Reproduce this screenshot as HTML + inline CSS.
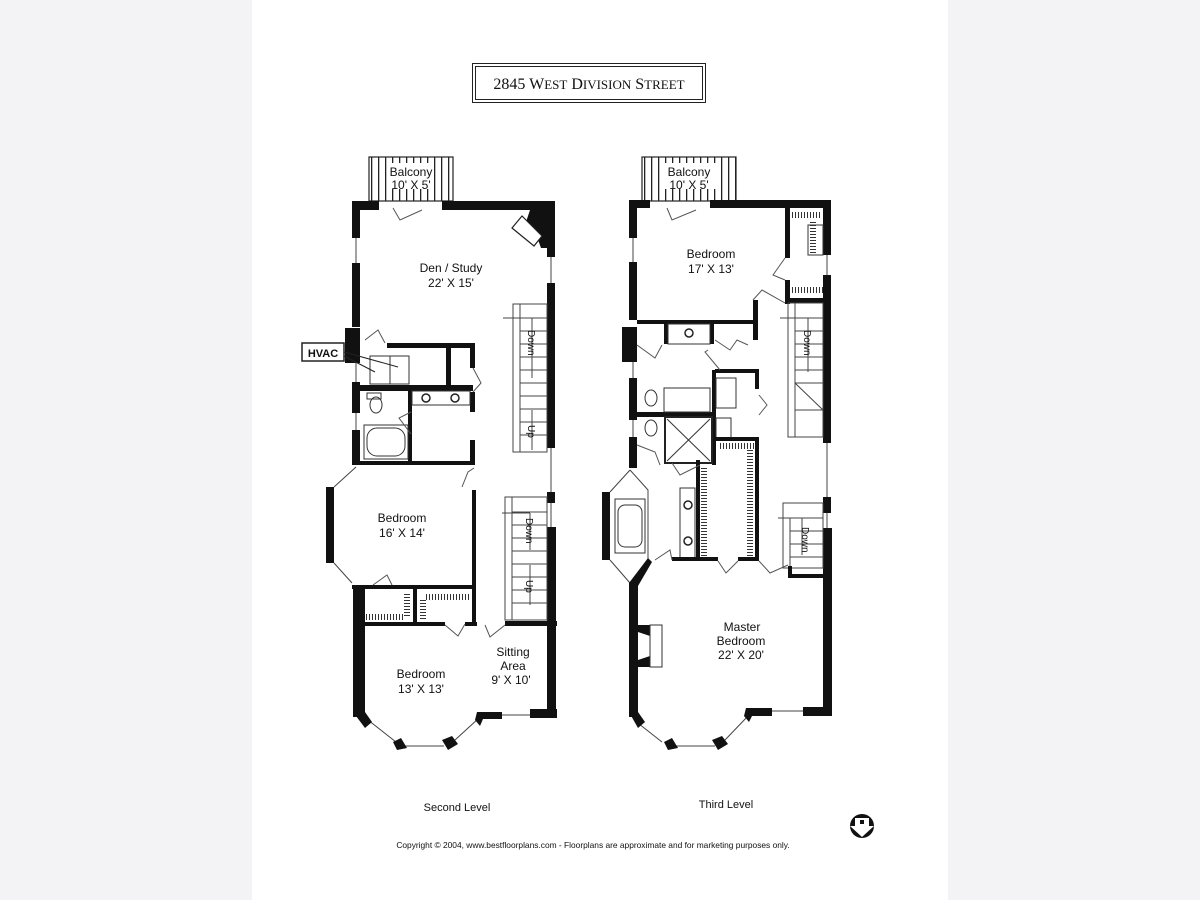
<!DOCTYPE html>
<html><head><meta charset="utf-8"><style>
html,body{margin:0;padding:0;background:#f3f3f6;}
#pg{position:absolute;left:252px;top:0;width:696px;height:900px;background:#fff;}
svg{position:absolute;left:0;top:0;}
text{font-family:"Liberation Sans",Arial,sans-serif;fill:#111;}
</style></head><body>
<div id="pg"></div>
<svg width="1200" height="900" viewBox="0 0 1200 900">
<defs>
<pattern id="bal" width="7" height="10" patternUnits="userSpaceOnUse"><rect x="0" y="0" width="1.3" height="10" fill="#222"/></pattern>
<pattern id="hang" width="3" height="8" patternUnits="userSpaceOnUse"><rect x="0" y="0" width="1" height="8" fill="#333"/></pattern>
<pattern id="hangh" width="8" height="3" patternUnits="userSpaceOnUse"><rect x="0" y="0" width="8" height="1" fill="#333"/></pattern>
</defs>
<rect x="472.5" y="63.5" width="233" height="39" fill="none" stroke="#222" stroke-width="1"/>
<rect x="475.5" y="66.5" width="227" height="33" fill="none" stroke="#222" stroke-width="1"/>
<text x="589" y="89" font-size="16" text-anchor="middle" style="font-family:'Liberation Serif',serif">2845 W<tspan font-size="13">EST</tspan> D<tspan font-size="13">IVISION</tspan> S<tspan font-size="13">TREET</tspan></text>

<g fill="#111">
<rect x="369" y="157" width="84" height="44" fill="url(#bal)"/>
<rect x="369" y="157" width="84" height="44" fill="none" stroke="#222" stroke-width="1.2"/>
<rect x="388" y="163" width="46" height="26" fill="#fff"/>
<rect x="352" y="201" width="27" height="9"/>
<rect x="442" y="201" width="113" height="9"/>
<polygon points="530,210 547,210 547,248 541,248 536,234 526,222"/>
<polygon points="512,228 522,216 542,236 534,246" fill="#fff" stroke="#222" stroke-width="1.2"/>
<rect x="352" y="201" width="8" height="37"/>
<rect x="352" y="263" width="8" height="64"/>
<rect x="345" y="328" width="15" height="35"/>
<rect x="352" y="382" width="8" height="31"/>
<rect x="352" y="430" width="8" height="35"/>
<line x1="356" y1="238" x2="356" y2="263" stroke="#444"/>
<line x1="356" y1="363" x2="356" y2="382" stroke="#444"/>
<line x1="356" y1="413" x2="356" y2="430" stroke="#444"/>
<rect x="547" y="201" width="8" height="56"/>
<rect x="547" y="283" width="8" height="165"/>
<line x1="551" y1="257" x2="551" y2="283" stroke="#444"/>
<line x1="551" y1="448" x2="551" y2="497" stroke="#444"/>
<rect x="547" y="492" width="8" height="11"/>
<rect x="547" y="527" width="9" height="190"/>
<line x1="551" y1="503" x2="551" y2="527" stroke="#444"/>
<rect x="387" y="343" width="86" height="5"/>
<rect x="446" y="343" width="5" height="42"/>
<rect x="360" y="385" width="113" height="6"/>
<rect x="408" y="385" width="4" height="78"/>
<rect x="470" y="343" width="5" height="25"/>
<rect x="470" y="392" width="5" height="20"/>
<rect x="470" y="440" width="5" height="25"/>
<rect x="360" y="461" width="113" height="4"/>
<rect x="370" y="356" width="39" height="28" fill="none" stroke="#333"/>
<line x1="390" y1="356" x2="390" y2="384" stroke="#333"/>
<rect x="364" y="425" width="44" height="34" fill="none" stroke="#333"/>
<rect x="367" y="428" width="38" height="28" rx="10" fill="none" stroke="#333"/>
<rect x="412" y="391" width="58" height="14" fill="none" stroke="#333"/>
<circle cx="426" cy="398" r="4" fill="none" stroke="#222" stroke-width="1.5"/>
<circle cx="455" cy="398" r="4" fill="none" stroke="#222" stroke-width="1.5"/>
<ellipse cx="376" cy="405" rx="6" ry="8" fill="none" stroke="#333"/>
<rect x="367" y="393" width="14" height="6" fill="none" stroke="#333"/>
<rect x="302" y="343" width="42" height="18" fill="#fff" stroke="#222" stroke-width="1.5"/>
<text x="323" y="357" font-size="11" font-weight="bold" text-anchor="middle">HVAC</text>
<line x1="344" y1="356" x2="375" y2="372" stroke="#222"/>
<line x1="344" y1="352" x2="398" y2="367" stroke="#222"/>
<g stroke="#444" fill="none" stroke-width="1">
<rect x="513" y="304" width="34" height="148"/>
<line x1="520" y1="304" x2="520" y2="452"/>
<line x1="520" y1="318" x2="547" y2="318"/><line x1="520" y1="331" x2="547" y2="331"/><line x1="520" y1="344" x2="547" y2="344"/><line x1="520" y1="357" x2="547" y2="357"/><line x1="520" y1="370" x2="547" y2="370"/><line x1="520" y1="383" x2="547" y2="383"/><line x1="520" y1="396" x2="547" y2="396"/><line x1="520" y1="409" x2="547" y2="409"/><line x1="520" y1="422" x2="547" y2="422"/><line x1="520" y1="435" x2="547" y2="435"/>
<line x1="503" y1="318" x2="532" y2="318"/><line x1="532" y1="318" x2="532" y2="378"/><line x1="532" y1="410" x2="532" y2="450"/>
<rect x="505" y="497" width="42" height="123"/>
<line x1="512" y1="497" x2="512" y2="620"/>
<line x1="512" y1="512" x2="547" y2="512"/><line x1="512" y1="525" x2="547" y2="525"/><line x1="512" y1="538" x2="547" y2="538"/><line x1="512" y1="551" x2="547" y2="551"/><line x1="512" y1="564" x2="547" y2="564"/><line x1="512" y1="577" x2="547" y2="577"/><line x1="512" y1="590" x2="547" y2="590"/><line x1="512" y1="603" x2="547" y2="603"/>
<line x1="502" y1="513" x2="530" y2="513"/><line x1="530" y1="513" x2="530" y2="550"/><line x1="530" y1="565" x2="530" y2="605"/>
</g>
<text transform="translate(528,330) rotate(90)" font-size="10">Down</text>
<text transform="translate(528,425) rotate(90)" font-size="10">Up</text>
<text transform="translate(526,518) rotate(90)" font-size="10">Down</text>
<text transform="translate(526,580) rotate(90)" font-size="10">Up</text>
<rect x="326" y="487" width="8" height="76"/>
<line x1="334" y1="487" x2="356" y2="467" stroke="#444"/>
<line x1="334" y1="563" x2="352" y2="583" stroke="#444"/>
<rect x="472" y="490" width="4" height="133"/>
<rect x="352" y="585" width="121" height="4"/>
<rect x="353" y="585" width="12" height="132"/>
<rect x="413" y="585" width="4" height="40"/>
<rect x="360" y="622" width="85" height="4"/>
<rect x="465" y="622" width="12" height="4"/>
<rect x="505" y="621" width="52" height="5"/>
<rect x="364" y="614" width="40" height="6" fill="url(#hang)"/>
<rect x="404" y="592" width="6" height="24" fill="url(#hangh)"/>
<rect x="426" y="594" width="45" height="6" fill="url(#hang)"/>
<rect x="420" y="598" width="6" height="22" fill="url(#hangh)"/>
<g stroke="#444" stroke-width="1" fill="none">
<line x1="368" y1="720" x2="396" y2="742"/>
<line x1="405" y1="746" x2="444" y2="746"/>
<line x1="455" y1="740" x2="479" y2="718"/>
<line x1="502" y1="715" x2="530" y2="715"/>
<line x1="634" y1="720" x2="662" y2="742"/>
<line x1="672" y1="746" x2="715" y2="746"/>
<line x1="725" y1="740" x2="748" y2="716"/>
<line x1="772" y1="711" x2="803" y2="711"/>
</g>
<polygon points="353,712 365,712 372,722 365,728"/>
<polygon points="393,742 401,738 407,748 397,750"/>
<polygon points="442,740 452,736 458,744 448,750"/>
<polygon points="477,712 502,712 502,719 483,719 480,726 475,720"/>
<rect x="530" y="709" width="27" height="9"/>
<g stroke="#555" fill="none" stroke-width="1">
<polyline points="393,208 400,220 422,210"/>
<polyline points="365,340 378,330 385,343"/>
<polyline points="473,368 481,383 473,392"/>
<polyline points="411,434 399,418 411,412"/>
<polyline points="462,487 468,472 474,468"/>
<polyline points="373,585 387,575 392,585"/>
<polyline points="445,625 458,636 465,624"/>
<polyline points="485,625 490,637 505,625"/>
</g>
</g>

<text x="451" y="272" font-size="12" text-anchor="middle">Den / Study</text>
<text x="451" y="287" font-size="12" text-anchor="middle">22' X 15'</text>
<text x="411" y="176" font-size="12" text-anchor="middle">Balcony</text>
<text x="411" y="189" font-size="12" text-anchor="middle">10' X 5'</text>
<text x="402" y="522" font-size="12" text-anchor="middle">Bedroom</text>
<text x="402" y="537" font-size="12" text-anchor="middle">16' X 14'</text>
<text x="421" y="678" font-size="12" text-anchor="middle">Bedroom</text>
<text x="421" y="693" font-size="12" text-anchor="middle">13' X 13'</text>
<text x="513" y="656" font-size="12" text-anchor="middle">Sitting</text>
<text x="513" y="670" font-size="12" text-anchor="middle">Area</text>
<text x="511" y="684" font-size="12" text-anchor="middle">9' X 10'</text>

<g fill="#111">
<rect x="642" y="157" width="94" height="44" fill="url(#bal)"/>
<rect x="642" y="157" width="94" height="44" fill="none" stroke="#222" stroke-width="1.2"/>
<rect x="662" y="163" width="54" height="26" fill="#fff"/>
<rect x="629" y="200" width="21" height="8"/>
<rect x="710" y="200" width="121" height="8"/>
<rect x="629" y="200" width="8" height="38"/>
<rect x="629" y="262" width="8" height="58"/>
<rect x="622" y="327" width="15" height="35"/>
<rect x="629" y="378" width="8" height="42"/>
<rect x="629" y="437" width="8" height="31"/>
<line x1="633" y1="238" x2="633" y2="262" stroke="#444"/>
<line x1="633" y1="362" x2="633" y2="378" stroke="#444"/>
<line x1="633" y1="420" x2="633" y2="437" stroke="#444"/>
<rect x="823" y="200" width="8" height="55"/>
<rect x="823" y="275" width="8" height="168"/>
<line x1="827" y1="255" x2="827" y2="275" stroke="#444"/>
<line x1="827" y1="443" x2="827" y2="497" stroke="#444"/>
<rect x="823" y="497" width="8" height="16"/>
<line x1="827" y1="513" x2="827" y2="528" stroke="#444"/>
<rect x="823" y="528" width="9" height="188"/>
<rect x="785" y="208" width="5" height="50"/>
<rect x="785" y="280" width="5" height="24"/>
<rect x="808" y="225" width="15" height="30" fill="none" stroke="#333"/>
<rect x="790" y="212" width="30" height="6" fill="url(#hang)"/>
<rect x="810" y="222" width="6" height="32" fill="url(#hangh)"/>
<rect x="790" y="287" width="33" height="6" fill="url(#hang)"/>
<rect x="785" y="298" width="38" height="5"/>
<rect x="637" y="320" width="121" height="4"/>
<rect x="753" y="300" width="5" height="40"/>
<rect x="664" y="320" width="4" height="24"/>
<rect x="710" y="320" width="4" height="24"/>
<rect x="668" y="324" width="42" height="20" fill="none" stroke="#333"/>
<circle cx="689" cy="333" r="4" fill="none" stroke="#222" stroke-width="1.5"/>
<rect x="715" y="369" width="43" height="4"/>
<rect x="755" y="369" width="4" height="20"/>
<rect x="712" y="370" width="4" height="95"/>
<rect x="637" y="412" width="78" height="5"/>
<rect x="665" y="417" width="47" height="46" fill="none" stroke="#222" stroke-width="2"/>
<line x1="667" y1="419" x2="710" y2="461" stroke="#333"/><line x1="710" y1="419" x2="667" y2="461" stroke="#333"/>
<rect x="664" y="388" width="46" height="24" fill="none" stroke="#333"/>
<rect x="716" y="378" width="20" height="30" fill="none" stroke="#333"/>
<rect x="716" y="418" width="15" height="20" fill="none" stroke="#333"/>
<ellipse cx="651" cy="398" rx="6" ry="8" fill="none" stroke="#333"/>
<ellipse cx="651" cy="428" rx="6" ry="8" fill="none" stroke="#333"/>
<rect x="715" y="437" width="43" height="4"/>
<rect x="755" y="437" width="4" height="123"/>
<rect x="696" y="460" width="4" height="100"/>
<rect x="720" y="443" width="35" height="6" fill="url(#hang)"/>
<rect x="747" y="448" width="6" height="110" fill="url(#hangh)"/>
<rect x="701" y="466" width="6" height="90" fill="url(#hangh)"/>
<rect x="680" y="488" width="15" height="70" fill="none" stroke="#333"/>
<circle cx="688" cy="505" r="4" fill="none" stroke="#222" stroke-width="1.5"/>
<circle cx="688" cy="541" r="4" fill="none" stroke="#222" stroke-width="1.5"/>
<rect x="672" y="557" width="46" height="4"/>
<rect x="738" y="557" width="21" height="4"/>
<rect x="602" y="492" width="8" height="68"/>
<line x1="610" y1="492" x2="630" y2="470" stroke="#444"/>
<line x1="610" y1="560" x2="630" y2="583" stroke="#444"/>
<polyline points="630,470 648,490 648,560 630,583" fill="none" stroke="#444"/>
<rect x="615" y="499" width="30" height="54" fill="none" stroke="#333"/>
<rect x="618" y="505" width="24" height="42" rx="7" fill="none" stroke="#333"/>
<polygon points="629,583 648,558 652,562 638,586 638,590 629,590"/>
<rect x="629" y="585" width="9" height="132"/>
<polygon points="638,625 662,625 662,667 638,667 638,660 650,656 650,636 638,632"/>
<rect x="650" y="625" width="12" height="42" fill="#fff" stroke="#333"/>
<polygon points="629,712 638,712 645,722 638,728"/>
<polygon points="664,742 672,738 678,748 668,750"/>
<polygon points="712,740 722,736 728,744 718,750"/>
<polygon points="746,708 772,708 772,716 752,716 749,722 744,716"/>
<rect x="803" y="707" width="29" height="9"/>
<g stroke="#444" fill="none" stroke-width="1">
<rect x="788" y="303" width="35" height="134"/>
<line x1="795" y1="303" x2="795" y2="437"/>
<line x1="795" y1="318" x2="823" y2="318"/><line x1="795" y1="331" x2="823" y2="331"/><line x1="795" y1="344" x2="823" y2="344"/><line x1="795" y1="357" x2="823" y2="357"/><line x1="795" y1="370" x2="823" y2="370"/><line x1="795" y1="383" x2="823" y2="383"/><line x1="795" y1="410" x2="823" y2="410"/>
<line x1="795" y1="383" x2="823" y2="410"/>
<line x1="780" y1="318" x2="808" y2="318"/><line x1="808" y1="318" x2="808" y2="372"/>
<rect x="783" y="503" width="40" height="65"/>
<line x1="790" y1="518" x2="790" y2="568"/>
<line x1="790" y1="518" x2="823" y2="518"/><line x1="790" y1="531" x2="823" y2="531"/><line x1="790" y1="544" x2="823" y2="544"/><line x1="790" y1="557" x2="823" y2="557"/>
<line x1="778" y1="518" x2="802" y2="518"/><line x1="802" y1="518" x2="802" y2="555"/>
</g>
<rect x="788" y="566" width="4" height="12"/>
<rect x="788" y="574" width="40" height="4"/>
<text transform="translate(804,330) rotate(90)" font-size="10">Down</text>
<text transform="translate(802,527) rotate(90)" font-size="10">Down</text>
<g stroke="#555" fill="none" stroke-width="1">
<polyline points="667,208 672,220 696,210"/>
<polyline points="785,258 773,275 785,280"/>
<polyline points="753,300 762,290 785,303"/>
<polyline points="637,345 655,358 662,345"/>
<polyline points="715,340 730,350 737,340 748,345"/>
<polyline points="708,350 705,352 720,370"/>
<polyline points="759,395 767,405 759,415"/>
<polyline points="637,445 655,452 660,465"/>
<polyline points="672,463 680,475 700,465"/>
<polyline points="655,560 670,550 672,560"/>
<polyline points="718,561 726,573 738,561"/>
<polyline points="759,561 770,573 788,565"/>
</g>
</g>
<text x="711" y="258" font-size="12" text-anchor="middle">Bedroom</text>
<text x="711" y="273" font-size="12" text-anchor="middle">17' X 13'</text>
<text x="689" y="176" font-size="12" text-anchor="middle">Balcony</text>
<text x="689" y="189" font-size="12" text-anchor="middle">10' X 5'</text>
<text x="742" y="631" font-size="12" text-anchor="middle">Master</text>
<text x="741" y="645" font-size="12" text-anchor="middle">Bedroom</text>
<text x="741" y="659" font-size="12" text-anchor="middle">22' X 20'</text>

<text x="457" y="811" font-size="11" text-anchor="middle">Second Level</text>
<text x="726" y="808" font-size="11" text-anchor="middle">Third Level</text>
<text x="593" y="848" font-size="8.4" text-anchor="middle">Copyright © 2004, www.bestfloorplans.com - Floorplans are approximate and for marketing purposes only.</text>
<circle cx="862" cy="826" r="12" fill="#111"/>
<polygon points="855,818 869,818 869,826 874,826 862,837 850,826 855,826" fill="#fff"/>
<rect x="860" y="820" width="4" height="4" fill="#111"/>
</svg>
</body></html>
